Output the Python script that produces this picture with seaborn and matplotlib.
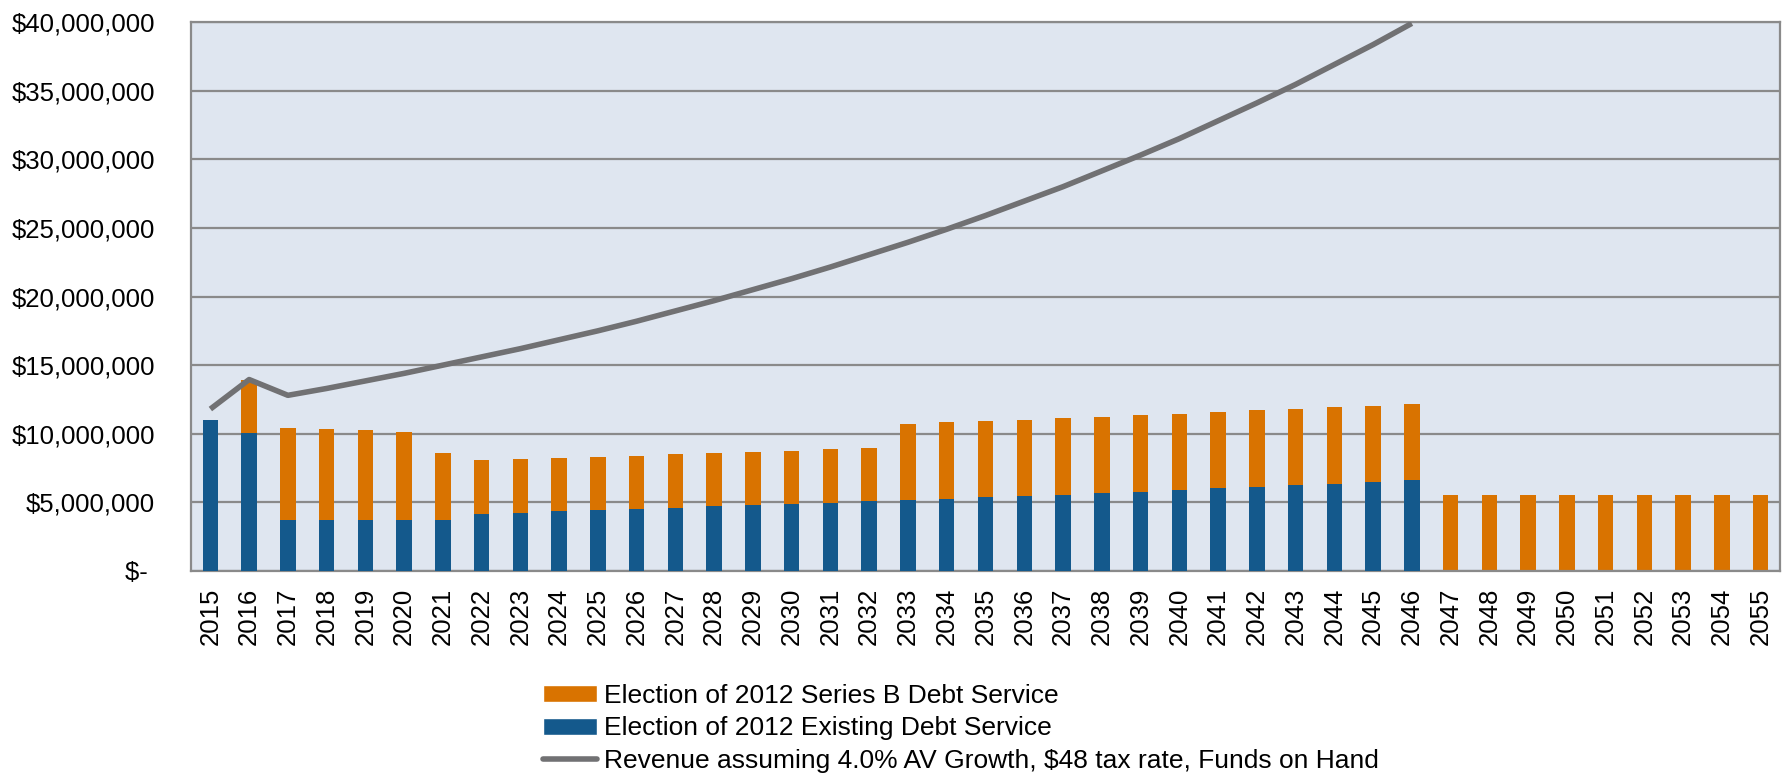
import numpy as np
import pandas as pd
import matplotlib
matplotlib.use("Agg")
import matplotlib.pyplot as plt
import seaborn as sns
from matplotlib.patches import Patch
from matplotlib.lines import Line2D
from matplotlib.ticker import FuncFormatter, FixedLocator

# Values (in $ millions)
years = list(range(2015, 2056))
existing_service = [11.00, 10.06, 3.68, 3.68, 3.68, 3.68, 3.68, 4.18, 4.26, 4.35,
                    4.43, 4.54, 4.62, 4.71, 4.79, 4.90, 4.96, 5.07, 5.18, 5.26,
                    5.38, 5.49, 5.57, 5.68, 5.79, 5.91, 6.02, 6.13, 6.24, 6.35,
                    6.49, 6.60, 0, 0, 0, 0, 0, 0, 0, 0, 0]
total_service = [11.00, 13.93, 10.39, 10.33, 10.25, 10.14, 8.58, 8.08, 8.16, 8.25,
                 8.33, 8.41, 8.52, 8.61, 8.69, 8.77, 8.89, 8.97, 10.72, 10.84,
                 10.92, 11.03, 11.14, 11.23, 11.34, 11.45, 11.56, 11.70, 11.81, 11.92,
                 12.03, 12.17, 5.52, 5.52, 5.52, 5.52, 5.52, 5.52, 5.52, 5.52, 5.52]
revenue = [11.80, 13.95, 12.80, 13.30, 13.85, 14.40, 15.00, 15.60, 16.20, 16.85,
           17.50, 18.20, 18.95, 19.70, 20.50, 21.30, 22.15, 23.05, 23.95, 24.90,
           25.90, 26.95, 28.00, 29.15, 30.30, 31.50, 32.80, 34.10, 35.45, 36.90,
           38.35, 39.90]

labels = ["Election of 2012 Series B Debt Service",
          "Election of 2012 Existing Debt Service",
          "Revenue assuming 4.0% AV Growth, $48 tax rate, Funds on Hand"]

orange = "#D97300"
blue = "#14598C"
gray_line = "#717173"
bg = "#DFE6F0"
grid_c = "#8A8A8A"

df = pd.DataFrame({
    "year": [str(y) for y in years],
    "existing": np.array(existing_service) * 1e6,
    "total": np.array(total_service) * 1e6,
})
rev_df = pd.DataFrame({"pos": np.arange(len(revenue)), "rev": np.array(revenue) * 1e6})

sns.set_style("white")
plt.rcParams['font.family'] = ['Liberation Sans', 'DejaVu Sans']
plt.rcParams['text.color'] = 'black'
fs = 18.5

fig = plt.figure(figsize=(17.87, 7.73), dpi=100)
ax = fig.add_axes([191 / 1787, 1 - 571 / 773, (1780 - 191) / 1787, (571 - 22) / 773])
ax.set_facecolor(bg)

# stacked bars: Series B sits on top of existing service
sns.barplot(data=df, x="year", y="total", color=orange, saturation=1, width=0.4,
            linewidth=0, ax=ax, zorder=2)
sns.barplot(data=df, x="year", y="existing", color=blue, saturation=1, width=0.4,
            linewidth=0, ax=ax, zorder=3)
sns.lineplot(data=rev_df, x="pos", y="rev", color=gray_line, linewidth=4, ax=ax, zorder=4,
             solid_capstyle="butt")

ax.set_xlim(-0.5, len(years) - 0.5)
ax.set_ylim(0, 40e6)
ax.set_xlabel("")
ax.set_ylabel("")

ax.yaxis.set_major_locator(FixedLocator(np.arange(0, 40e6 + 1, 5e6)))
ax.yaxis.set_major_formatter(FuncFormatter(lambda v, p: "$- " if v == 0 else "${:,.0f}".format(v)))
ax.grid(axis="y", color=grid_c, linewidth=1.6, zorder=1)
ax.set_axisbelow(True)

ax.set_xticks(np.arange(len(years)))
ax.set_xticklabels([str(y) for y in years], rotation=90)
ax.set_xticks(np.arange(-0.5, len(years)), minor=True)
ax.tick_params(axis="x", which="major", length=0, pad=12, labelsize=fs, labelcolor="black")
ax.tick_params(axis="x", which="minor", length=7, width=1.5, color=grid_c, direction="out")
ax.tick_params(axis="y", length=8, width=1.5, color=grid_c, pad=18, labelsize=fs,
               labelcolor="black")

for s in ax.spines.values():
    s.set_color(grid_c)
    s.set_linewidth(1.6)

handles = [Patch(facecolor=orange), Patch(facecolor=blue),
           Line2D([0], [0], color=gray_line, linewidth=4)]
fig.legend(handles, labels, loc="upper left", bbox_to_anchor=(543 / 1787, 1 - 684 / 773),
           frameon=False, fontsize=19, handlelength=2.05, handleheight=0.6,
           handletextpad=0.25, labelspacing=0.32, borderpad=0, borderaxespad=0,
           labelcolor="black")

fig.savefig("out.png", dpi=100, facecolor="white")
